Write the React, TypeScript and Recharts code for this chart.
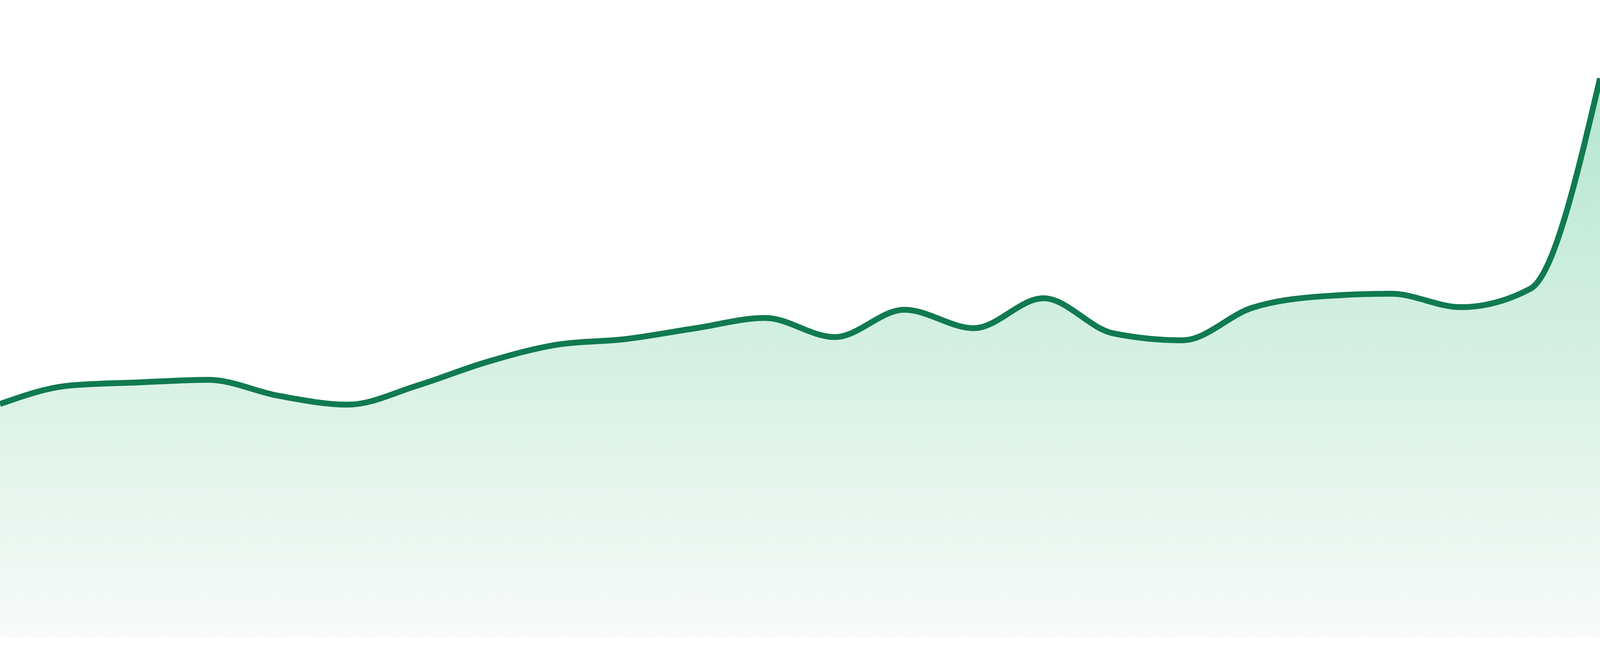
import React from "react";
import { AreaChart, Area, XAxis, YAxis } from "recharts";

// 24 evenly spaced samples (no visible tick labels in the reference)
const categories: string[] = [
  "00:00", "01:00", "02:00", "03:00", "04:00", "05:00", "06:00", "07:00",
  "08:00", "09:00", "10:00", "11:00", "12:00", "13:00", "14:00", "15:00",
  "16:00", "17:00", "18:00", "19:00", "20:00", "21:00", "22:00", "23:00",
];

const values: number[] = [
  36.6, 39.5, 40.0, 40.4, 37.9, 36.5, 39.5, 43.2,
  45.9, 46.8, 48.5, 50.1, 47.1, 51.4, 48.5, 53.2,
  47.7, 46.6, 51.7, 53.5, 53.9, 51.8, 54.7, 87.7,
];

const yDomain: [number, number] = [0, 100];

const data = categories.map((c, i) => ({ name: c, value: values[i] }));

export default function App() {
  // The chart fills the browser window (falls back to 4800 x 1680).
  const W = (typeof window !== "undefined" && window.innerWidth) || 4800;
  const H = (typeof window !== "undefined" && window.innerHeight) || 1680;
  return (
    <div style={{ position: "fixed", left: 0, top: 0, width: W, height: H, background: "#ffffff" }}>
      <AreaChart
        width={W}
        height={H}
        data={data}
        margin={{ top: 0, right: 0, bottom: 48, left: 0 }}
      >
        <defs>
          <linearGradient id="areaFill" x1="0" y1="0" x2="0" y2="1">
            <stop offset="0%" stopColor="#b4e6cf" />
            <stop offset="100%" stopColor="#f8fbf9" />
          </linearGradient>
        </defs>
        <XAxis dataKey="name" hide />
        <YAxis hide domain={yDomain} />
        <Area
          type="monotone"
          dataKey="value"
          stroke="#107a50"
          strokeWidth={15}
          fill="url(#areaFill)"
          fillOpacity={1}
          dot={false}
          activeDot={false}
          isAnimationActive={false}
        />
      </AreaChart>
    </div>
  );
}
